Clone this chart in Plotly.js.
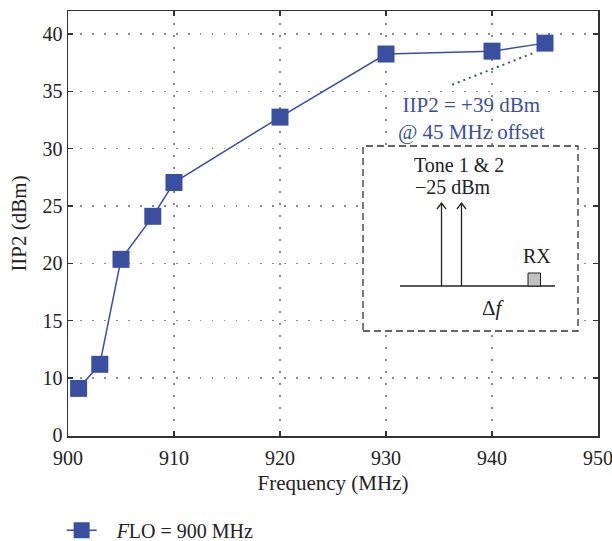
<!DOCTYPE html>
<html>
<head>
<meta charset="utf-8">
<script src="https://cdn.plot.ly/plotly-3.0.1.min.js"></script>
<style>html,body{margin:0;padding:0;background:#fff;}#chart{width:612px;height:541px;}</style>
</head>
<body>
<div id="chart"></div>
<script>
// Data (y in "axis units": the bottom tick labelled 0 sits where 5 would be)
var freqMHz = [901, 903, 905, 908, 910, 920, 930, 940, 945];
var iip2dBm = [9.1, 11.2, 20.35, 24.1, 27.05, 32.75, 38.25, 38.5, 39.2];
var yTickVals = [5, 10, 15, 20, 25, 30, 35, 40];
var yTickText = ['0', '10', '15', '20', '25', '30', '35', '40'];
var xTickVals = [900, 910, 920, 930, 940, 950];
var seriesName = '\u00a0\u00a0\u00a0<i>F</i>LO = 900 MHz';

var blue = '#3a4fa0';
var serif = 'Liberation Serif, Times New Roman, serif';
var txt = '#222';

var trace = {
  x: freqMHz, y: iip2dBm, type: 'scatter', mode: 'lines+markers', name: seriesName,
  line: {color: blue, width: 1.5},
  marker: {symbol: 'square', size: 17, color: blue, line: {width: 0}},
  cliponaxis: false
};

var axisCommon = {
  showline: true, linecolor: '#333', linewidth: 1.5, mirror: 'ticks',
  ticks: 'inside', ticklen: 5, tickwidth: 1.5, tickcolor: '#333',
  showgrid: true, gridcolor: '#8a8a8a', griddash: '1.5px,10.5px', gridwidth: 1.5,
  zeroline: false, tickfont: {family: serif, size: 20, color: txt},
  ticklabeloverflow: 'allow'
};

function px(x) { return (x - 68) / 530; }
function py(y) { return (436 - y) / 425; }

function note(x, y, text, size) {
  return {xref: 'paper', yref: 'paper', x: px(x), y: py(y), xanchor: 'center', yanchor: 'middle',
          text: text, showarrow: false, font: {family: serif, size: size, color: txt}};
}

var layout = {
  width: 612, height: 541,
  margin: {l: 68, r: 14, t: 11, b: 105, autoexpand: false},
  paper_bgcolor: '#fff', plot_bgcolor: '#fff',
  font: {family: serif, color: txt},
  showlegend: true,
  legend: {x: -0.012, xanchor: 'left', y: -0.222, yanchor: 'middle', font: {family: serif, size: 20, color: txt}, bgcolor: 'rgba(0,0,0,0)'},
  xaxis: Object.assign({}, axisCommon, {
    range: [900, 950], tickvals: xTickVals, ticklabelstandoff: 3,
    title: {text: 'Frequency (MHz)', font: {family: serif, size: 21, color: txt}, standoff: 8}
  }),
  yaxis: Object.assign({}, axisCommon, {
    range: [4.95, 42], tickvals: yTickVals, ticktext: yTickText,
    title: {text: 'IIP2 (dBm)', font: {family: serif, size: 21, color: txt}, standoff: 10}
  }),
  shapes: [
    // dotted pointer line
    {type: 'line', xref: 'x', yref: 'y', x0: 943.8, y0: 38.3, x1: 935.9, y1: 35.45, line: {color: blue, width: 2, dash: '2px,4px'}},
    // inset box
    {type: 'rect', xref: 'paper', yref: 'paper', x0: px(363), x1: px(578), y0: py(331), y1: py(146),
     line: {color: '#333', width: 1.3, dash: '7px,4px'}, fillcolor: '#fff', layer: 'above'},
    // baseline
    {type: 'line', xref: 'paper', yref: 'paper', x0: px(400), x1: px(555), y0: py(286), y1: py(286), line: {color: txt, width: 1.3}},
    // tone arrows
    {type: 'line', xref: 'paper', yref: 'paper', x0: px(441.5), x1: px(441.5), y0: py(286), y1: py(203), line: {color: txt, width: 1.3}},
    {type: 'line', xref: 'paper', yref: 'paper', x0: px(461.5), x1: px(461.5), y0: py(286), y1: py(203), line: {color: txt, width: 1.3}},
    {type: 'path', xref: 'paper', yref: 'paper', path: 'M ' + px(437) + ',' + py(209) + ' L ' + px(441.5) + ',' + py(203) + ' L ' + px(446) + ',' + py(209), line: {color: txt, width: 1.3}},
    {type: 'path', xref: 'paper', yref: 'paper', path: 'M ' + px(457) + ',' + py(209) + ' L ' + px(461.5) + ',' + py(203) + ' L ' + px(466) + ',' + py(209), line: {color: txt, width: 1.3}},
    // RX block
    {type: 'rect', xref: 'paper', yref: 'paper', x0: px(528), x1: px(540.5), y0: py(286), y1: py(273), line: {color: txt, width: 1}, fillcolor: '#c0c0c0'}
  ],
  annotations: [
    {xref: 'x', yref: 'y', x: 938.1, y: 32.6, xanchor: 'center', yanchor: 'middle', text: 'IIP2 = +39 dBm<br>@ 45 MHz offset', showarrow: false, align: 'center',
     font: {family: serif, size: 21, color: blue}},
    note(459, 165, 'Tone 1 & 2', 20),
    note(453, 187, '\u221225 dBm', 20),
    note(537, 256, 'RX', 20),
    note(493, 308, '\u0394<i>f</i>', 21)
  ]
};

Plotly.newPlot('chart', [trace], layout, {displayModeBar: false, staticPlot: true});
</script>
</body>
</html>
